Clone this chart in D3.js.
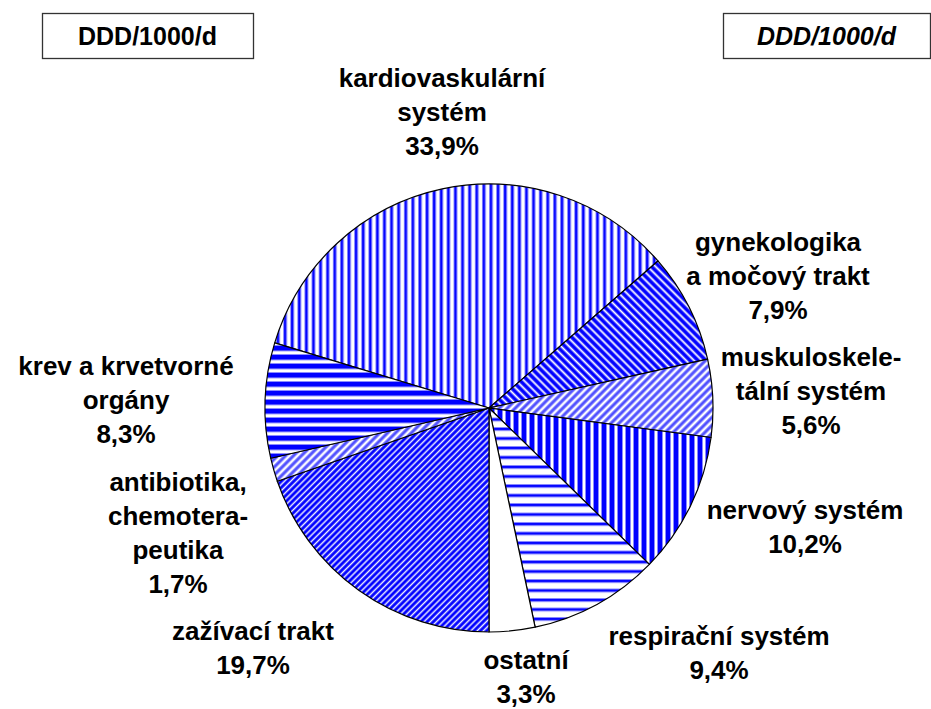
<!DOCTYPE html>
<html>
<head>
<meta charset="utf-8">
<script src="https://cdn.jsdelivr.net/npm/d3@7"></script>
<style>
  html, body { margin: 0; padding: 0; background: #fff; }
  svg { display: block; }
  text { font-family: "Liberation Sans", Arial, sans-serif; font-weight: bold; fill: #000; }
</style>
</head>
<body>
<svg id="chart" width="931" height="709"></svg>
<script>
// Skladba spotřeby léčiv (DDD/1000/d) podle skupin
const categories = [
  ["kardiovaskulární", "systém"],
  ["gynekologika", "a močový trakt"],
  ["muskuloskele-", "tální systém"],
  ["nervový systém"],
  ["respirační systém"],
  ["ostatní"],
  ["zažívací trakt"],
  ["antibiotika,", "chemotera-", "peutika"],
  ["krev a krvetvorné", "orgány"]
];
const shares = [33.9, 7.9, 5.6, 10.2, 9.4, 3.3, 19.7, 1.7, 8.3];
const valueLabels = ["33,9%", "7,9%", "5,6%", "10,2%", "9,4%", "3,3%", "19,7%", "1,7%", "8,3%"];
const unitLabel = "DDD/1000/d";

// fill pattern for each slice
const fills = ["vThin", "diagBack", "diagLight", "vThick", "hThin", "none", "diagFwd", "diagLight2", "hThick"];

// label block centres relative to the pie centre
const labelOffsets = [[-47, -296], [289, -132], [322, -17], [316, 119], [230, 245], [37, 269], [-236, 240], [-311, 125], [-363, -8]];

const svg = d3.select("#chart");
const cx = 489, cy = 408, radius = 224;
const blue = "#0000ff";

// ---- patterns ----
const defs = svg.append("defs");
function stripePattern(id, period, core, fringe, color, fringeColor, angle) {
  const p = defs.append("pattern")
    .attr("id", id)
    .attr("patternUnits", "userSpaceOnUse")
    .attr("width", period).attr("height", period)
    .attr("patternTransform", `rotate(${angle})`);
  p.append("rect").attr("width", period).attr("height", period).attr("fill", "#fff");
  p.append("rect").attr("x", 0).attr("y", 0).attr("width", core + 2 * fringe).attr("height", period).attr("fill", fringeColor);
  p.append("rect").attr("x", fringe).attr("y", 0).attr("width", core).attr("height", period).attr("fill", color);
}
stripePattern("vThin", 7.1, 2, 1, blue, "#8a8aff", 0);
stripePattern("vThick", 8, 4, 1, blue, "#8a8aff", 0);
stripePattern("hThin", 9.5, 2, 1, blue, "#8a8aff", 90);
stripePattern("hThick", 9, 4.4, 1, blue, "#8a8aff", 90);
stripePattern("diagFwd", 4.4, 2.2, 0.7, blue, "#7070ff", 45);
stripePattern("diagBack", 5.6, 2.8, 0.8, blue, "#7070ff", -45);
stripePattern("diagLight", 5.6, 2.2, 0.8, "#5050ff", "#a0a0ff", 45);
stripePattern("diagLight2", 5.6, 2.2, 0.8, "#5050ff", "#a0a0ff", 45);

// ---- pie ----
const total = d3.sum(shares);
const beforeDigestive = d3.sum(shares.slice(0, 6));
const start = Math.PI - 2 * Math.PI * beforeDigestive / total;

const pie = d3.pie().sort(null).value(d => d)
  .startAngle(start).endAngle(start + 2 * Math.PI);
const arc = d3.arc().innerRadius(0).outerRadius(radius);

const g = svg.append("g").attr("transform", `translate(${cx},${cy})`);
g.selectAll("path.slice")
  .data(pie(shares))
  .join("path")
  .attr("class", "slice")
  .attr("d", arc)
  .attr("fill", (d, i) => fills[i] === "none" ? "#fff" : `url(#${fills[i]})`)
  .attr("stroke", "#000")
  .attr("stroke-width", 1.2)
  .attr("stroke-linejoin", "round");

// ---- labels ----
const lineH = 34;
const labels = g.selectAll("g.label")
  .data(categories.map((c, i) => ({ lines: c.concat([valueLabels[i]]), off: labelOffsets[i] })))
  .join("g")
  .attr("class", "label")
  .attr("transform", d => `translate(${d.off[0]},${d.off[1]})`);
labels.each(function (d) {
  const n = d.lines.length;
  d3.select(this).selectAll("text")
    .data(d.lines)
    .join("text")
    .attr("text-anchor", "middle")
    .attr("y", (t, j) => (j - (n - 1) / 2) * lineH)
    .attr("dy", "0.36em")
    .style("font-size", "26px")
    .text(t => t);
});

// ---- unit boxes ----
const boxes = [
  { x: 42, w: 211, italic: false },
  { x: 723, w: 207, italic: true }
];
const bg = svg.selectAll("g.unit").data(boxes).join("g").attr("class", "unit");
bg.append("rect")
  .attr("x", d => d.x + 0.5).attr("y", 13.5)
  .attr("width", d => d.w).attr("height", 45)
  .attr("fill", "#fff").attr("stroke", "#333").attr("stroke-width", 1.3);
bg.append("text")
  .attr("x", d => d.x + d.w / 2).attr("y", 36)
  .attr("dy", "0.36em")
  .attr("text-anchor", "middle")
  .style("font-size", "25px")
  .style("font-style", d => d.italic ? "italic" : "normal")
  .text(unitLabel);
</script>
</body>
</html>
